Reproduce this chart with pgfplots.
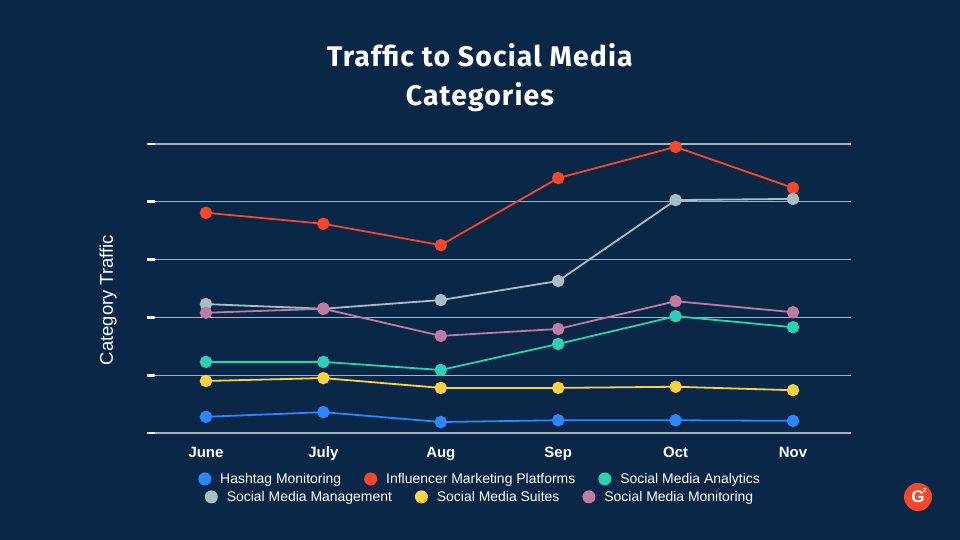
\documentclass[border=0pt]{standalone}
\usepackage{fontspec}
\setmainfont{Liberation Sans}
\newfontfamily\titlefont[LetterSpace=4]{Fira Sans}
\usepackage{pgfplots}
\pgfplotsset{compat=1.18}
\definecolor{bg}{HTML}{0B2747}
\definecolor{gridc}{HTML}{A9B3BD}
\definecolor{cHash}{HTML}{2E86FF}
\definecolor{cInfl}{HTML}{F5472B}
\definecolor{cAnal}{HTML}{2ECFB5}
\definecolor{cMgmt}{HTML}{A7BFC4}
\definecolor{cSuit}{HTML}{FAD143}
\definecolor{cMoni}{HTML}{C27BA0}
\definecolor{gtwo}{HTML}{F5472B}
\pgfplotsset{
  base/.style={
    at={(155bp,107bp)}, anchor=south west,
    width=696bp, height=289bp, scale only axis,
    xmin=-0.434, xmax=5.494, ymin=0, ymax=5,
    clip=false,
    xtick={0,1,2,3,4,5},
    xticklabels={June,July,Aug,Sep,Oct,Nov},
    ytick={0,1,2,3,4,5},
    yticklabels={,,,,,},
    yticklabel style={text=bg},
    separate axis lines,
    axis x line=bottom, axis y line=left,
    x axis line style={draw=none},
    y axis line style={draw=none},
    ymajorgrids,
    grid style={color=gridc, line width=1.3bp},
    xtick style={draw=none},
    ytick style={draw=white!94!gray, line width=2.8bp},
    major tick length=8bp, tick align=outside,
    typeset ticklabels with strut,
    xticklabel style={text=white, font=\bfseries\fontsize{15}{17}\selectfont, yshift=-1bp},
    every axis plot/.append style={line width=1.8bp, mark=*, mark size=5.3bp},
    legend image code/.code={\fill[##1,draw=none] (0bp,0bp) circle (6.5bp);},
    legend style={draw=none, fill=none, text=white, anchor=center,
      font=\fontsize{14}{16}\selectfont,
      /tikz/every odd column/.append style={column sep=7bp},
      /tikz/every even column/.append style={column sep=21bp},
      legend columns=-1},
  }
}
\begin{document}
\begin{tikzpicture}[x=1bp,y=1bp]
\fill[bg] (0,0) rectangle (960,540);
\useasboundingbox (0,0) rectangle (960,540);
\node[white, font=\titlefont\bfseries\fontsize{28.5}{39}\selectfont, align=center] at (480,462) {Traffic to Social Media\\Categories};
\node[rotate=90, white, font=\fontsize{18.5}{20}\selectfont] at (108,240) {Category Traffic};
\begin{axis}[base, legend style={at={(0.467,-0.159)}}]
\addplot[color=cHash] coordinates {(0,0.28) (1,0.36) (2,0.19) (3,0.22) (4,0.22) (5,0.21)};
\addlegendentry{Hashtag Monitoring}
\addplot[color=cInfl] coordinates {(0,3.81) (1,3.62) (2,3.25) (3,4.41) (4,4.95) (5,4.24)};
\addlegendentry{Influencer Marketing Platforms}
\addplot[color=cAnal] coordinates {(0,1.23) (1,1.23) (2,1.09) (3,1.54) (4,2.02) (5,1.83)};
\addlegendentry{Social Media Analytics}
\end{axis}
\begin{axis}[base, hide axis, legend style={at={(0.467,-0.221)}}]
\addplot[color=cMgmt] coordinates {(0,2.23) (1,2.15) (2,2.30) (3,2.63) (4,4.03) (5,4.05)};
\addlegendentry{Social Media Management}
\addplot[color=cSuit] coordinates {(0,0.90) (1,0.95) (2,0.78) (3,0.78) (4,0.80) (5,0.74)};
\addlegendentry{Social Media Suites}
\addplot[color=cMoni] coordinates {(0,2.08) (1,2.15) (2,1.68) (3,1.80) (4,2.28) (5,2.09)};
\addlegendentry{Social Media Monitoring}
\end{axis}
\node[circle, fill=gtwo, minimum size=28bp, inner sep=0pt, text=white, font=\bfseries\fontsize{17}{17}\selectfont] at (918,43) {G};
\node[text=white, font=\bfseries\fontsize{6}{6}\selectfont, inner sep=0pt] at (924.5,50) {2};
\end{tikzpicture}
\end{document}
